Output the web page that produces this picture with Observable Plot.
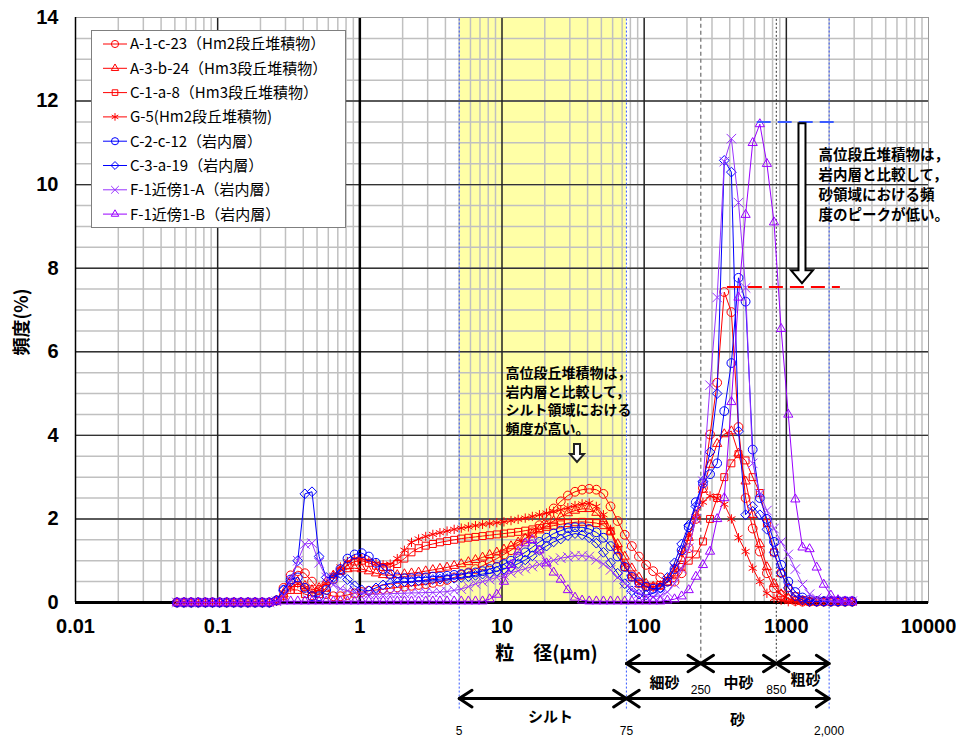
<!DOCTYPE html>
<html lang="ja">
<head>
<meta charset="utf-8">
<script src="https://cdn.jsdelivr.net/npm/d3@7"></script>
<script src="https://cdn.jsdelivr.net/npm/@observablehq/plot@0.6"></script>
<style>
html,body{margin:0;padding:0;background:#fff;}
#chart svg{display:block;}
</style>
</head>
<body>
<div id="chart"></div>
<script>
// ---- particle size classes (μm) ----
const sizes = [0.0517,0.0580,0.0651,0.0730,0.0819,0.0919,0.1032,0.1157,0.1299,0.1457,
0.1635,0.1834,0.2058,0.2309,0.2591,0.2907,0.3262,0.3660,0.4107,0.4608,
0.517,0.580,0.651,0.730,0.819,0.919,1.032,1.157,1.299,1.457,
1.635,1.834,2.058,2.309,2.591,2.907,3.262,3.660,4.107,4.608,
5.17,5.80,6.51,7.30,8.19,9.19,10.32,11.57,12.99,14.57,
16.35,18.34,20.58,23.09,25.91,29.07,32.62,36.60,41.07,46.08,
51.7,58.0,65.1,73.0,81.9,91.9,103.2,115.7,129.9,145.7,
163.5,183.4,205.8,230.9,259.1,290.7,326.2,366.0,410.7,460.8,
517,580,651,730,819,919,1032,1157,1299,1457,
1635,1834,2058,2309,2591,2907];

// ---- frequency (%) per series ----
const A1c23 = [0,0,0,0,0,0,0,0,0,0,
0,0,0,0,0.05,0.35,0.65,0.75,0.7,0.5,
0.3,0.2,0.15,0.15,0.18,0.22,0.25,0.28,0.3,0.32,
0.34,0.36,0.38,0.4,0.42,0.44,0.47,0.5,0.54,0.6,
0.66,0.72,0.8,0.88,0.96,1.05,1.15,1.25,1.38,1.52,
1.68,1.85,2.05,2.25,2.42,2.56,2.65,2.7,2.72,2.7,
2.6,2.3,1.95,1.62,1.35,1.1,0.9,0.75,0.6,0.5,
0.5,0.7,1.3,2.0,2.74,4.02,5.26,7.43,6.95,4.2,
2.5,1.77,1.22,0.7,0.34,0.18,0.08,0.04,0.02,0.02,
0.02,0.02,0.02,0.02,0.02,0.02];
const A3b24 = [0,0,0,0,0,0,0,0,0,0,
0,0,0,0,0.05,0.2,0.45,0.5,0.4,0.3,
0.35,0.5,0.65,0.75,0.8,0.82,0.8,0.75,0.7,0.66,
0.65,0.66,0.68,0.7,0.72,0.75,0.78,0.81,0.84,0.88,
0.92,0.97,1.02,1.08,1.14,1.2,1.27,1.35,1.44,1.53,
1.63,1.73,1.84,1.95,2.05,2.14,2.2,2.24,2.24,2.15,
1.95,1.7,1.4,1.1,0.82,0.6,0.45,0.38,0.38,0.48,
0.7,1.05,1.55,2.1,2.7,3.3,3.8,4.03,4.1,3.57,
2.9,2.1,1.4,0.85,0.45,0.2,0.1,0.05,0.02,0.02,
0.02,0.02,0.02,0.02,0.02,0.02];
const C1a8 = [0,0,0,0,0,0,0,0,0,0,
0,0,0,0,0.03,0.15,0.3,0.3,0.2,0.15,
0.2,0.35,0.55,0.75,0.9,0.98,1.0,0.95,0.88,0.85,
0.85,0.92,1.05,1.2,1.3,1.36,1.4,1.44,1.47,1.5,
1.53,1.55,1.57,1.59,1.61,1.63,1.65,1.67,1.69,1.72,
1.75,1.78,1.81,1.84,1.87,1.9,1.92,1.93,1.92,1.9,
1.85,1.7,1.25,0.85,0.6,0.45,0.38,0.38,0.42,0.5,
0.65,0.85,1.0,1.15,1.46,2.0,2.5,3.0,3.33,3.55,
3.4,3.0,2.62,1.9,1.2,0.7,0.35,0.15,0.06,0.02,
0.02,0.02,0.02,0.02,0.02,0.02];
const G5 = [0,0,0,0,0,0,0,0,0,0,
0,0,0,0,0.03,0.15,0.35,0.45,0.35,0.25,
0.3,0.45,0.65,0.85,0.98,1.05,1.05,1.0,0.93,0.9,
0.92,1.05,1.25,1.44,1.52,1.58,1.63,1.67,1.71,1.75,
1.78,1.81,1.84,1.87,1.89,1.91,1.93,1.96,1.99,2.02,
2.06,2.1,2.14,2.18,2.22,2.27,2.32,2.36,2.38,2.3,
2.1,1.75,1.3,0.9,0.62,0.45,0.38,0.36,0.42,0.58,
0.85,1.2,1.6,2.05,2.4,2.55,2.5,2.35,2.0,1.55,
1.22,0.82,0.5,0.22,0.1,0.05,0.02,0.02,0.02,0.02,
0.02,0.02,0.02,0.02,0.02,0.02];
const C2c12 = [0,0,0,0,0,0,0,0,0,0,
0,0,0,0,0.05,0.3,0.55,0.6,0.35,0.15,
0.15,0.3,0.55,0.8,1.05,1.15,1.18,1.1,0.95,0.8,
0.68,0.6,0.58,0.58,0.6,0.6,0.62,0.62,0.64,0.66,
0.68,0.7,0.72,0.75,0.8,0.85,0.92,1.0,1.1,1.2,
1.32,1.45,1.55,1.65,1.72,1.78,1.8,1.8,1.76,1.68,
1.55,1.35,1.1,0.85,0.62,0.48,0.38,0.33,0.35,0.5,
0.8,1.25,1.8,2.4,2.85,3.07,3.33,4.58,5.73,7.77,
7.2,3.66,2.5,2.0,1.45,0.9,0.5,0.25,0.12,0.06,
0.03,0.03,0.03,0.03,0.03,0.03];
const C3a19 = [0,0,0,0,0,0,0,0,0,0,
0,0,0,0,0.05,0.3,0.5,1.0,2.6,2.65,
1.1,0.6,0.6,0.7,0.55,0.4,0.3,0.28,0.35,0.42,
0.46,0.48,0.5,0.5,0.52,0.53,0.55,0.56,0.57,0.58,
0.6,0.62,0.65,0.68,0.7,0.75,0.8,0.85,0.93,1.02,
1.12,1.25,1.35,1.45,1.52,1.6,1.65,1.62,1.55,1.42,
1.2,0.95,0.7,0.45,0.28,0.2,0.18,0.22,0.35,0.6,
0.95,1.4,1.85,2.3,2.9,3.6,5.0,10.58,10.3,4.1,
2.1,2.3,2.1,1.75,1.2,0.7,0.35,0.15,0.06,0.02,
0.02,0.02,0.02,0.02,0.02,0.02];
const F1A = [0,0,0,0,0,0,0,0,0,0,
0,0,0,0,0.03,0.15,0.55,1.0,1.4,1.42,
0.95,0.6,0.42,0.33,0.28,0.24,0.22,0.2,0.2,0.2,
0.21,0.22,0.22,0.23,0.23,0.24,0.24,0.25,0.26,0.29,
0.32,0.38,0.45,0.5,0.55,0.6,0.66,0.71,0.76,0.81,
0.86,0.91,0.96,1.01,1.06,1.09,1.12,1.12,1.1,1.02,
0.92,0.78,0.6,0.45,0.32,0.22,0.16,0.14,0.16,0.25,
0.45,0.8,1.3,2.0,2.9,5.2,7.3,10.55,11.1,9.57,
7.53,3.33,2.6,2.2,1.77,1.45,1.15,0.8,0.43,0.2,
0.1,0.05,0.03,0.03,0.03,0.03];
const F1B = [0,0,0,0,0,0,0,0,0,0,
0,0,0,0,0.03,0.03,0.03,0.03,0.03,0.03,
0.03,0.03,0.03,0.03,0.03,0.03,0.03,0.03,0.03,0.03,
0.03,0.03,0.03,0.03,0.03,0.03,0.03,0.03,0.03,0.03,
0.03,0.03,0.03,0.03,0.08,0.19,0.5,0.9,1.22,1.42,
1.5,1.25,0.94,0.72,0.55,0.3,0.12,0.05,0.03,0.03,
0.03,0.03,0.03,0.03,0.03,0.03,0.03,0.03,0.03,0.05,
0.08,0.15,0.3,0.62,0.9,1.22,2.0,2.5,4.8,7.3,
9.28,11.0,11.45,10.5,9.1,6.55,4.5,2.47,1.32,1.28,
0.84,0.43,0.17,0.06,0.03,0.03];

const seriesNames = ["A-1-c-23（Hm2段丘堆積物）","A-3-b-24（Hm3段丘堆積物）","C-1-a-8（Hm3段丘堆積物）","G-5(Hm2段丘堆積物)","C-2-c-12（岩内層）","C-3-a-19（岩内層）","F-1近傍1-A（岩内層）","F-1近傍1-B（岩内層）"];
const seriesValues = [A1c23, A3b24, C1a8, G5, C2c12, C3a19, F1A, F1B];
const seriesColors = ["#ff0000","#ff0000","#ff0000","#ff0000","#0000ff","#0000ff","#9933ff","#9900ff"];
const seriesSymbols = ["circle","triangle2","square2","asterisk","circle","diamond2","times","triangle2"];

// ---- axes ----
const xTicks = [0.01, 0.1, 1, 10, 100, 1000, 10000];
const xTickLabels = ["0.01","0.1","1","10","100","1000","10000"];
const yTicks = [0, 2, 4, 6, 8, 10, 12, 14];

// ---- grain-size classes (μm) ----
const siltRange = [5, 75];
const sandRange = [75, 2000];
const sandSub = [[75, 250], [250, 850], [850, 2000]];
const sandSubNames = ["細砂", "中砂", "粗砂"];
const levelRock = 11.5;   // peak level, 岩内層
const levelHm = 7.55;     // peak level, 高位段丘堆積物

const JP = '"Noto Sans CJK JP", "Noto Sans", sans-serif';
const NUM = '"Liberation Sans Narrow", "Liberation Sans", Arial, sans-serif';

const minorX = [];
for (let e = -2; e <= 3; e++) for (let m = 2; m <= 9; m++) minorX.push(+(m * Math.pow(10, e)).toPrecision(3));
const minorY = d3.range(0.5, 14, 0.5);
const majorY = [2, 4, 6, 8, 10, 12];
const decades = [0.1, 1, 10, 100, 1000];

const symbolTypes = {circle: d3.symbolCircle, triangle2: d3.symbolTriangle2, square2: d3.symbolSquare2,
  asterisk: d3.symbolAsterisk, diamond2: d3.symbolDiamond2, times: d3.symbolTimes};

const seriesMarks = seriesNames.flatMap((name, i) => {
  const rows = sizes.map((s, k) => ({size: s, value: seriesValues[i][k]}));
  return [
    Plot.line(rows, {x: "size", y: "value", stroke: seriesColors[i], strokeWidth: 1}),
    Plot.dot(rows, {x: "size", y: "value", stroke: seriesColors[i], fill: "none", symbol: seriesSymbols[i], r: 4.4, strokeWidth: 1})
  ];
});

function hollowArrow(xv, yTopV, yNeckV, yTipV, sw, hw, color) {
  return (index, {x, y}) => {
    const cx = x(xv), t = y(yTopV), n = y(yNeckV), p = y(yTipV);
    const d = `M${cx - sw},${t}L${cx + sw},${t}L${cx + sw},${n}L${cx + hw},${n}L${cx},${p}L${cx - hw},${n}L${cx - sw},${n}Z`;
    return d3.create("svg:path").attr("d", d).attr("fill", "#fff").attr("stroke", color)
      .attr("stroke-width", 2).attr("stroke-linejoin", "miter").node();
  };
}

function yTitle(index, {x, y}) {
  return d3.create("svg:text")
    .attr("transform", `translate(22,${y(6.7)}) rotate(-90)`)
    .attr("text-anchor", "middle").style("text-anchor", "middle").attr("dy", "0.35em")
    .attr("font-family", JP).attr("font-size", 18).attr("font-weight", "bold").attr("fill", "#000")
    .text("頻度(%)").node();
}

function legendNode() {
  const g = d3.create("svg:g");
  g.append("rect").attr("x", 91.5).attr("y", 30.5).attr("width", 254).attr("height", 197)
    .attr("fill", "#fff").attr("stroke", "#7f7f7f");
  seriesNames.forEach((name, i) => {
    const cy = 44 + i * 24.3;
    g.append("line").attr("x1", 103).attr("x2", 127).attr("y1", cy).attr("y2", cy)
      .attr("stroke", seriesColors[i]).attr("stroke-width", 1);
    g.append("path").attr("transform", `translate(115,${cy})`)
      .attr("d", d3.symbol(symbolTypes[seriesSymbols[i]], 40)())
      .attr("fill", "none").attr("stroke", seriesColors[i]);
    g.append("text").attr("x", 130).attr("y", cy).attr("dy", "0.36em")
      .attr("text-anchor", "start").style("text-anchor", "start")
      .attr("font-size", 15).attr("font-family", JP).attr("fill", "#000").text(name);
  });
  return g.node();
}

const rowArrows1 = sandSub.flatMap(([a, b]) => [{a, b}, {a: b, b: a}]);
const rowArrows2 = [siltRange, sandRange].flatMap(([a, b]) => [{a, b}, {a: b, b: a}]);

const txt = (s, o) => Plot.text([s], {text: d => d, fill: "#000", fontFamily: JP, ...o});

const chart = Plot.plot({
  width: 956, height: 737,
  marginLeft: 75, marginRight: 28, marginTop: 17, marginBottom: 135,
  style: {fontFamily: JP, background: "#fff", overflow: "visible"},
  x: {type: "log", domain: [0.01, 10000]},
  y: {domain: [0, 14]},
  marks: [
    Plot.rect([siltRange], {x1: d => d[0], x2: d => d[1], y1: 0, y2: 14, fill: "#ffffa6"}),
    Plot.ruleX(minorX, {y1: 0, y2: 14, stroke: "#c0c0c0", strokeWidth: 1.5}),
    Plot.ruleY(minorY, {x1: 0.01, x2: 10000, stroke: "#c0c0c0", strokeWidth: 1.5}),
    Plot.ruleY(majorY, {x1: 0.01, x2: 10000, stroke: "#333", strokeWidth: 1.4}),
    Plot.ruleX(decades, {y1: 0, y2: 14, stroke: "#222", strokeWidth: 1.5}),
    Plot.ruleX([1], {y1: 0, y2: 14, stroke: "#000", strokeWidth: 2.5}),
    Plot.frame({stroke: "#999", strokeWidth: 1}),
    // class boundaries
    Plot.ruleX([siltRange[0], sandRange[0], sandRange[1]], {y1: -2.55, y2: 14, stroke: "#3355ff", strokeWidth: 1, strokeDasharray: "2,2"}),
    Plot.ruleX([sandSub[0][1]], {y1: -1.5, y2: 14, stroke: "#888", strokeWidth: 1.5, strokeDasharray: "4,3"}),
    Plot.ruleX([sandSub[1][1]], {y1: -1.6, y2: 14, stroke: "#333", strokeWidth: 1, strokeDasharray: "2,2"}),
    // axis lines
    Plot.ruleX([0.01], {y1: 0, y2: 14, stroke: "#000", strokeWidth: 1.5}),
    Plot.ruleY([0], {stroke: "#000", strokeWidth: 3}),
    // series
    ...seriesMarks,
    // peak levels
    Plot.ruleY([levelRock], {x1: 624, x2: 2400, stroke: "#3b5bff", strokeWidth: 2, strokeDasharray: "14,7"}),
    Plot.ruleY([levelHm], {x1: 385, x2: 2400, stroke: "#ff0000", strokeWidth: 2, strokeDasharray: "14,7"}),
    hollowArrow(1299, 11.46, 7.94, 7.63, 3.5, 11, "#000"),
    hollowArrow(33.96, 3.78, 3.54, 3.35, 3, 7, "#222"),
    txt("高位段丘堆積物は，\n岩内層と比較して，\nシルト領域における\n頻度が高い。", {x: 10.58, y: 5.68, textAnchor: "start", lineAnchor: "top", fontSize: 14, fontWeight: "bold", lineHeight: 1.32}),
    txt("高位段丘堆積物は，\n岩内層と比較して，\n砂領域における頻\n度のピークが低い。", {x: 1683, y: 10.92, textAnchor: "start", lineAnchor: "top", fontSize: 14.5, fontWeight: "bold", lineHeight: 1.38}),
    // legend
    () => legendNode(),
    // bottom class annotation
    Plot.arrow(rowArrows1, {x1: "a", x2: "b", y1: -1.46, y2: -1.46, stroke: "#000", strokeWidth: 3, headLength: 7.6, headAngle: 66}),
    Plot.arrow(rowArrows2, {x1: "a", x2: "b", y1: -2.3, y2: -2.3, stroke: "#000", strokeWidth: 3, headLength: 7.6, headAngle: 66}),
    txt(sandSubNames[0], {x: 139, y: -1.94, fontSize: 15, fontWeight: "bold"}),
    txt(sandSubNames[1], {x: 460, y: -1.94, fontSize: 15, fontWeight: "bold"}),
    txt(sandSubNames[2], {x: 1363, y: -1.87, fontSize: 15, fontWeight: "bold"}),
    Plot.text([sandSub[0][1], sandSub[1][1]], {x: d => d, y: -2.1, text: d => String(d), fontSize: 12, fontFamily: NUM, fill: "#000"}),
    txt("シルト", {x: 21.9, y: -2.75, fontSize: 15, fontWeight: "bold"}),
    txt("砂", {x: 453, y: -2.82, fontSize: 15, fontWeight: "bold"}),
    Plot.text([siltRange[0], sandRange[0], sandRange[1]], {x: d => d, y: -3.09, text: d => d3.format(",")(d), fontSize: 12, fontFamily: NUM, fill: "#000"}),
    txt("粒　径(μm)", {x: 20.56, y: -1.22, fontSize: 19, fontWeight: "bold"}),
    yTitle,
    // axes
    Plot.axisX(xTicks, {tickSize: 0, tickPadding: 16, tickFormat: d => xTickLabels[xTicks.indexOf(d)], fontSize: 20, fontWeight: "bold", fontFamily: NUM, label: null}),
    Plot.axisY(yTicks, {tickSize: 0, tickPadding: 17, fontSize: 20, fontWeight: "bold", fontFamily: NUM, label: null})
  ]
});
document.getElementById("chart").append(chart);
</script>
</body>
</html>
